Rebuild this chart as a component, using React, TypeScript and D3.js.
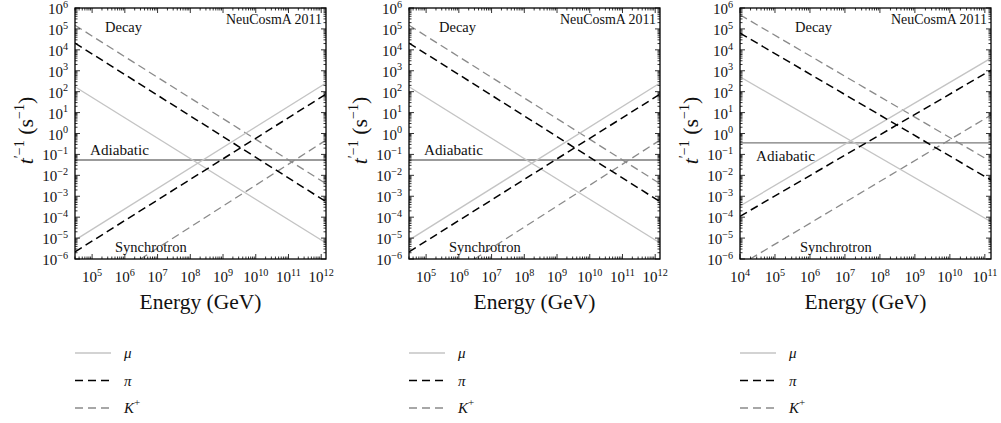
import React from 'react';
import * as d3 from 'd3';

// energy ranges of the two panel kinds (GeV)
const energyDomainA = [3e4, 1.4e12];
const energyDomainB = [1e4, 1.5e11];
const rateDomain = [1e-6, 1e6];

const xTicksA = [1e5, 1e6, 1e7, 1e8, 1e9, 1e10, 1e11, 1e12];
const xTicksB = [1e4, 1e5, 1e6, 1e7, 1e8, 1e9, 1e10, 1e11];
const yTicks = d3.range(-6, 7).map((e) => Math.pow(10, e));

// [energy, inverse time] end points
const muDecayA = [[3e4, 170], [1.4e12, 5.8e-6]];
const piDecayA = [[3e4, 2.1e4], [1.4e12, 5.5e-4]];
const kDecayA = [[3e4, 1.5e5], [1.4e12, 4e-3]];
const muSyncA = [[3e4, 8e-6], [1.4e12, 260]];
const piSyncA = [[3e4, 2.2e-6], [1.4e12, 76]];
const kSyncA = [[3e6, 1e-6], [1.4e12, 0.48]];
const adiabaticA = 0.054;

const muDecayB = [[1e4, 510], [1.5e11, 6e-5]];
const piDecayB = [[1e4, 6.3e4], [1.5e11, 5.9e-3]];
const kDecayB = [[1e4, 4.7e5], [1.5e11, 4.5e-2]];
const muSyncB = [[1e4, 3.4e-4], [1.5e11, 4e3]];
const piSyncB = [[1e4, 1.1e-4], [1.5e11, 1.07e3]];
const kSyncB = [[1.95e4, 1e-6], [1.5e11, 7.6]];
const adiabaticB = 0.36;

const legendLabels = ['μ', 'π', 'K'];

const FONT = '"Liberation Serif", "DejaVu Serif", serif';

const styles = {
  mu: { stroke: '#c4c4c4', width: 1.3, dash: null },
  pi: { stroke: '#000', width: 1.5, dash: '8,4.5' },
  k: { stroke: '#8a8a8a', width: 1.3, dash: '8,4.5' },
};

const panels = [
  {
    left: 75, domain: energyDomainA, xTicks: xTicksA, adiabatic: adiabaticA,
    lines: { mu: [muDecayA, muSyncA], pi: [piDecayA, piSyncA], k: [kDecayA, kSyncA] },
    adiaLabel: { x: 15, dy: -5 }, decay: 30, sync: 40,
  },
  {
    left: 409, domain: energyDomainA, xTicks: xTicksA, adiabatic: adiabaticA,
    lines: { mu: [muDecayA, muSyncA], pi: [piDecayA, piSyncA], k: [kDecayA, kSyncA] },
    adiaLabel: { x: 15, dy: -5 }, decay: 30, sync: 40,
  },
  {
    left: 740, domain: energyDomainB, xTicks: xTicksB, adiabatic: adiabaticB,
    lines: { mu: [muDecayB, muSyncB], pi: [piDecayB, piSyncB], k: [kDecayB, kSyncB] },
    adiaLabel: { x: 16, dy: 18 }, decay: 55, sync: 60,
  },
];

const top = 8;
const bottom = 259;
const width = 251;

function Pow({ exp, size }) {
  return (
    <>
      10<tspan dy={-size * 0.42} fontSize={size * 0.68}>{exp}</tspan>
    </>
  );
}

function Panel({ p, idx }) {
  const x = d3.scaleLog().domain(p.domain).range([0, width]);
  const y = d3.scaleLog().domain(rateDomain).range([bottom - top, 0]);
  const h = bottom - top;
  const line = d3.line().x((d) => x(d[0])).y((d) => y(d[1]));
  const clipId = `clip${idx}`;

  const minorX = [];
  const lo = Math.floor(Math.log10(p.domain[0]));
  const hi = Math.ceil(Math.log10(p.domain[1]));
  for (let e = lo; e <= hi; e++) {
    for (let m = 1; m < 10; m++) {
      const v = m * Math.pow(10, e);
      if (v >= p.domain[0] && v <= p.domain[1]) minorX.push({ v, major: m === 1 });
    }
  }
  const minorY = [];
  for (let e = -6; e <= 6; e++) {
    for (let m = 1; m < 10; m++) {
      const v = m * Math.pow(10, e);
      if (v <= 1e6) minorY.push({ v, major: m === 1 });
    }
  }

  const fs = 15;
  return (
    <g transform={`translate(${p.left},${top})`}>
      <defs>
        <clipPath id={clipId}>
          <rect x={0} y={0} width={width} height={h} />
        </clipPath>
      </defs>
      <g clipPath={`url(#${clipId})`} fill="none">
        <line x1={0} x2={width} y1={y(p.adiabatic)} y2={y(p.adiabatic)} stroke="#7a7a7a" strokeWidth={1.3} />
        {['k', 'mu', 'pi'].map((key) =>
          p.lines[key].map((d, i) => (
            <path key={key + i} d={line(d)} stroke={styles[key].stroke}
              strokeWidth={styles[key].width} strokeDasharray={styles[key].dash || undefined} />
          ))
        )}
      </g>
      {/* ticks */}
      <g stroke="#000" strokeWidth={0.8}>
        {minorX.map((t, i) => {
          const l = t.major ? 5 : 2.5;
          return (
            <g key={'x' + i}>
              <line x1={x(t.v)} x2={x(t.v)} y1={h} y2={h - l} />
              <line x1={x(t.v)} x2={x(t.v)} y1={0} y2={l} />
            </g>
          );
        })}
        {minorY.map((t, i) => {
          const l = t.major ? 5 : 2.5;
          return (
            <g key={'y' + i}>
              <line x1={0} x2={l} y1={y(t.v)} y2={y(t.v)} />
              <line x1={width} x2={width - l} y1={y(t.v)} y2={y(t.v)} />
            </g>
          );
        })}
      </g>
      <rect x={0} y={0} width={width} height={h} fill="none" stroke="#000" strokeWidth={1.3} />
      {/* tick labels */}
      <g fontFamily={FONT} fontSize={fs} fill="#111">
        {yTicks.map((t) => {
          const e = Math.round(Math.log10(t));
          return (
            <text key={t} x={-7} y={y(t) + 6} textAnchor="end">
              <Pow exp={e < 0 ? `−${-e}` : `${e}`} size={fs} />
            </text>
          );
        })}
        {p.xTicks.map((t) => {
          const e = Math.round(Math.log10(t));
          return (
            <text key={t} x={x(t)} y={h + 23} textAnchor="middle">
              <Pow exp={`${e}`} size={fs} />
            </text>
          );
        })}
      </g>
      {/* annotations */}
      <g fontFamily={FONT} fontSize={14.5} fill="#111">
        <text x={width - 4} y={16} textAnchor="end" textLength={96} lengthAdjust="spacingAndGlyphs">NeuCosmA 2011</text>
        <text x={p.decay} y={24}>Decay</text>
        <text x={p.sync} y={h - 7}>Synchrotron</text>
        <text x={p.adiaLabel.x} y={y(p.adiabatic) + p.adiaLabel.dy} textLength={59} lengthAdjust="spacingAndGlyphs">Adiabatic</text>
      </g>
      {/* axis titles */}
      <text x={width / 2} y={h + 50} textAnchor="middle" fontFamily={FONT} fontSize={21.5} fill="#111">
        Energy (GeV)
      </text>
      <text transform={`translate(-42,${h / 2 - 3}) rotate(-90)`} textAnchor="middle" fontFamily={FONT} fontSize={22} fill="#111">
        <tspan fontStyle="italic">t</tspan>
        <tspan dy={-9} fontSize={14}>′−1</tspan>
        <tspan dy={9}>{'  (s'}</tspan>
        <tspan dy={-9} fontSize={14}>−1</tspan>
        <tspan dy={9}>)</tspan>
      </text>
      {/* legend */}
      <g transform={`translate(0,${345 - top})`} fontFamily={FONT} fontSize={15} fontStyle="italic" fill="#111">
        {['mu', 'pi', 'k'].map((key, i) => (
          <g key={key} transform={`translate(0,${i * 27.5})`}>
            <line x1={0} x2={36} y1={8} y2={8} stroke={styles[key].stroke}
              strokeWidth={key === 'pi' ? 1.6 : 1.3} strokeDasharray={styles[key].dash ? '8,5' : undefined} />
            <text x={49} y={13}>
              {legendLabels[i]}
              {key === 'k' && <tspan dy={-7} fontSize={11} fontStyle="normal">+</tspan>}
            </text>
          </g>
        ))}
      </g>
    </g>
  );
}

export default function App() {
  return (
    <svg width={1001} height={423} style={{ position: 'absolute', left: 0, top: 0, background: '#fff' }}>
      {panels.map((p, i) => (
        <Panel key={i} p={p} idx={i} />
      ))}
    </svg>
  );
}
